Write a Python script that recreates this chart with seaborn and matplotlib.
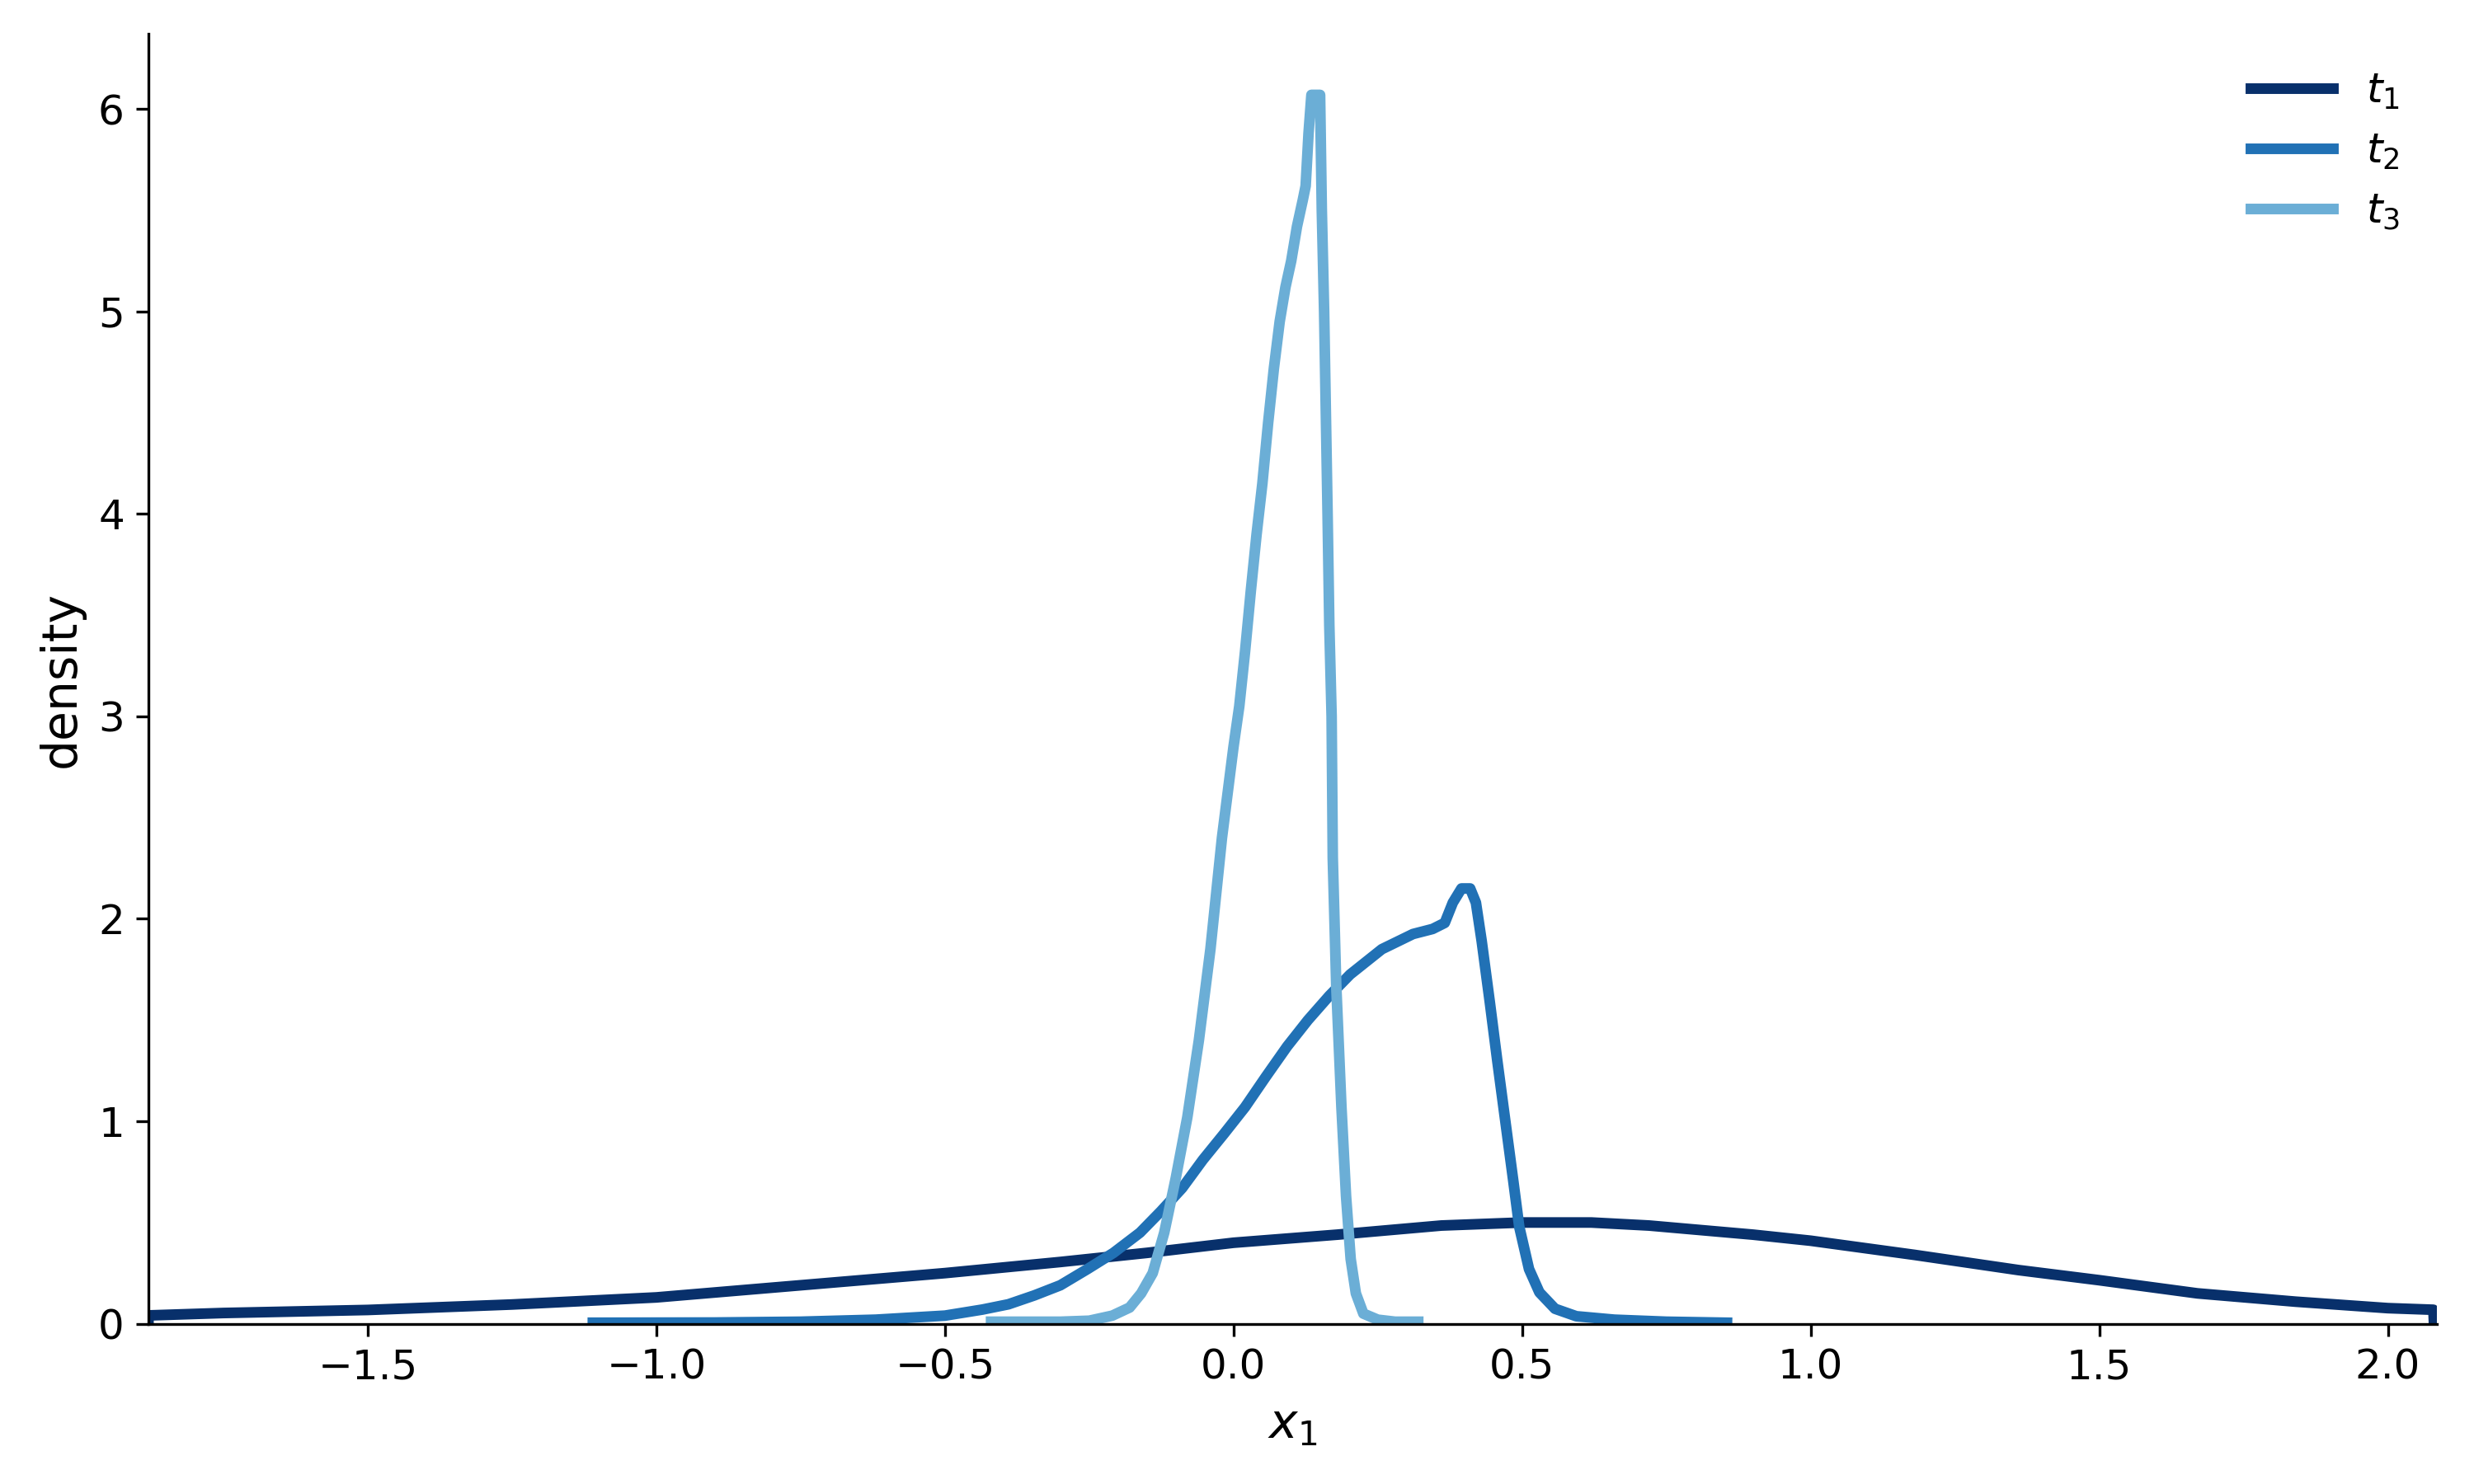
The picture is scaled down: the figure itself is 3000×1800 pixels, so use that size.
import numpy as np
import pandas as pd
import matplotlib
matplotlib.use("Agg")
import matplotlib.pyplot as plt
import seaborn as sns

# --- values (x_1, density) ---
t1_x = [-1.88, -1.88, -1.75, -1.5, -1.25, -1.0, -0.75, -0.5, -0.3, -0.15, 0.0, 0.18,
        0.36, 0.5, 0.62, 0.72, 0.9, 1.0, 1.18, 1.36, 1.5, 1.67, 1.84, 2.0, 2.079, 2.08]
t1_y = [0.0, 0.041, 0.053, 0.068, 0.095, 0.13, 0.19, 0.25, 0.305, 0.35, 0.40, 0.44,
        0.485, 0.50, 0.50, 0.485, 0.44, 0.41, 0.34, 0.265, 0.215, 0.15, 0.109, 0.077, 0.069, 0.0]

t2_x = [-1.11, -0.9, -0.75, -0.62, -0.5, -0.435, -0.39, -0.345, -0.30, -0.253, -0.208,
        -0.162, -0.126, -0.089, -0.053, -0.016, 0.02, 0.056, 0.093, 0.129, 0.166, 0.202,
        0.257, 0.311, 0.345, 0.366, 0.38, 0.395, 0.41, 0.42, 0.43, 0.444, 0.457, 0.471,
        0.485, 0.495, 0.512, 0.53, 0.557, 0.594, 0.66, 0.75, 0.855]
t2_y = [0.005, 0.006, 0.01, 0.02, 0.04, 0.07, 0.096, 0.14, 0.19, 0.27, 0.35,
        0.45, 0.555, 0.67, 0.81, 0.94, 1.07, 1.22, 1.37, 1.50, 1.62, 1.725,
        1.85, 1.925, 1.95, 1.98, 2.08, 2.15, 2.15, 2.08, 1.89, 1.59, 1.30, 1.0,
        0.70, 0.48, 0.27, 0.155, 0.074, 0.037, 0.02, 0.01, 0.005]

t3_x = [-0.42, -0.30, -0.25, -0.21, -0.18, -0.16, -0.14, -0.12, -0.10, -0.08, -0.06,
        -0.04, -0.02, 0.0, 0.01, 0.02, 0.03, 0.04, 0.05, 0.06, 0.07, 0.08, 0.09, 0.10,
        0.11, 0.12, 0.125, 0.13, 0.135, 0.15, 0.153, 0.157, 0.160, 0.163, 0.166, 0.170,
        0.172, 0.178, 0.187, 0.195, 0.203, 0.212, 0.225, 0.25, 0.28, 0.32]
t3_y = [0.01, 0.01, 0.015, 0.04, 0.08, 0.15, 0.25, 0.45, 0.72, 1.02, 1.40,
        1.85, 2.40, 2.85, 3.05, 3.32, 3.62, 3.90, 4.15, 4.45, 4.72, 4.95, 5.12, 5.25,
        5.42, 5.55, 5.62, 5.88, 6.07, 6.07, 5.5, 5.0, 4.5, 4.0, 3.45, 3.0,
        2.3, 1.67, 1.07, 0.63, 0.32, 0.15, 0.05, 0.02, 0.01, 0.01]

labels = [r'$t_1$', r'$t_2$', r'$t_3$']
colors = ['#08306b', '#2171b5', '#6baed6']

series = [(t1_x, t1_y), (t2_x, t2_y), (t3_x, t3_y)]

fig, ax = plt.subplots(figsize=(10, 6), dpi=300)

for (xs, ys), lab, col in zip(series, labels, colors):
    df = pd.DataFrame({'x': xs, 'density': ys})
    sns.lineplot(data=df, x='x', y='density', ax=ax, color=col, lw=3.1,
                 label=lab, sort=False, estimator=None)

ax.set_xlim(-1.88, 2.085)
ax.set_ylim(0, 6.37)
ax.set_xlabel(r'$x_1$', fontsize=14)
ax.set_ylabel('density', fontsize=14)
ax.tick_params(labelsize=12)
sns.despine(ax=ax)
ax.legend(frameon=False, loc='upper right', fontsize=12)

fig.subplots_adjust(left=0.06, right=0.985, bottom=0.108, top=0.977)
fig.savefig('out.png', dpi=300)
